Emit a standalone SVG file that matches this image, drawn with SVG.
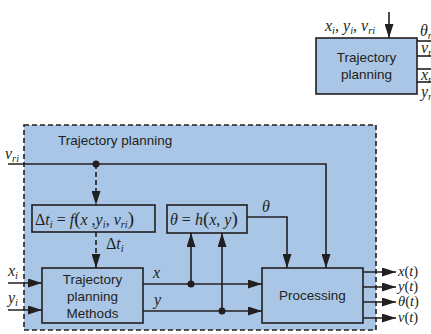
<svg xmlns="http://www.w3.org/2000/svg" width="431" height="334" viewBox="0 0 431 334">
  <style>
    .box { fill: #a9c6e6; stroke: #231f20; stroke-width: 1.6; }
    .frame { fill: #a9c6e6; stroke: #231f20; stroke-width: 1.6; stroke-dasharray: 5 3; }
    .ln { fill: none; stroke: #231f20; stroke-width: 1.6; }
    .dash { fill: none; stroke: #231f20; stroke-width: 1.6; stroke-dasharray: 5 3; }
    .sans { font-family: "Liberation Sans", Arial, sans-serif; font-size: 13.5px; fill: #231f20; }
    .math { font-family: "Liberation Serif", "Times New Roman", serif; font-style: italic; font-size: 16px; fill: #231f20; }
    .out { font-size: 14.5px; }
    .up { font-style: normal; }
    .par { font-style: normal; font-size: 19px; }
    .sub { font-size: 10.5px; }
    .dot { fill: #231f20; }
  </style>
  <defs>
    <marker id="arrow" viewBox="0 0 14 9" refX="14" refY="4.5" markerWidth="14" markerHeight="9" markerUnits="userSpaceOnUse" orient="auto">
      <path d="M0,0 L14,4.5 L0,9 z" fill="#231f20"/>
    </marker>
  </defs>

  <!-- compact block symbol -->
  <g id="block-symbol">
    <rect class="box" x="316" y="38" width="101" height="56"/>
    <text class="sans" x="366.5" y="62" text-anchor="middle">Trajectory</text>
    <text class="sans" x="366.5" y="79" text-anchor="middle">planning</text>
    <text class="math" x="325" y="31">x<tspan class="sub" dy="3">i</tspan><tspan dy="-3" class="up">, </tspan>y<tspan class="sub" dy="3">i</tspan><tspan dy="-3" class="up">, </tspan>v<tspan class="sub" dy="3">ri</tspan></text>
    <line class="ln" x1="389" y1="12" x2="389" y2="38" marker-end="url(#arrow)"/>
    <line class="ln" x1="417" y1="41" x2="431" y2="41"/>
    <line class="ln" x1="417" y1="56" x2="431" y2="56"/>
    <line class="ln" x1="417" y1="69" x2="431" y2="69"/>
    <line class="ln" x1="417" y1="82" x2="431" y2="82"/>
    <text class="math" x="420" y="36">θ<tspan class="sub" dy="3">r</tspan></text>
    <text class="math" x="421" y="53">v<tspan class="sub" dy="3">r</tspan></text>
    <text class="math" x="421" y="80">x<tspan class="sub" dy="3">r</tspan></text>
    <text class="math" x="421" y="97">y<tspan class="sub" dy="3">r</tspan></text>
  </g>

  <!-- expanded subsystem frame -->
  <g id="frame">
    <rect class="frame" x="24" y="125" width="352" height="205"/>
    <text class="sans" x="58" y="145">Trajectory planning</text>
  </g>

  <g id="delta-t">
    <rect class="box" x="32" y="205" width="123" height="27"/>
    <text class="math" x="35" y="225"><tspan class="up">Δ</tspan>t<tspan class="sub" dy="3">i</tspan><tspan dy="-3" class="up"> = </tspan>f<tspan class="par">(</tspan>x<tspan class="up"> ,</tspan>y<tspan class="sub" dy="3">i</tspan><tspan dy="-3" class="up">, </tspan>v<tspan class="sub" dy="3">ri</tspan><tspan dy="-3" class="par">)</tspan></text>
  </g>

  <g id="theta">
    <rect class="box" x="167" y="205" width="80" height="28"/>
    <text class="math" x="170" y="225">θ<tspan class="up"> = </tspan>h<tspan class="par">(</tspan>x<tspan class="up">, </tspan>y<tspan class="par">)</tspan></text>
  </g>

  <g id="methods">
    <rect class="box" x="42" y="268" width="101" height="55"/>
    <text class="sans" x="92.5" y="284" text-anchor="middle">Trajectory</text>
    <text class="sans" x="92.5" y="301" text-anchor="middle">planning</text>
    <text class="sans" x="92.5" y="318" text-anchor="middle">Methods</text>
  </g>

  <g id="processing">
    <rect class="box" x="262" y="268" width="101" height="55"/>
    <text class="sans" x="312.5" y="300" text-anchor="middle">Processing</text>
  </g>

  <g id="connectors">
    <!-- v_ri feed -->
    <text class="math" x="5" y="159">v<tspan class="sub" dy="3">ri</tspan></text>
    <polyline class="ln" points="8,164 326,164 326,268" marker-end="url(#arrow)"/>
    <circle class="dot" cx="96" cy="164" r="3.5"/>
    <line class="dash" x1="96" y1="164" x2="96" y2="205" marker-end="url(#arrow)"/>
    <!-- Δt_i -->
    <line class="dash" x1="96" y1="232" x2="96" y2="268" marker-end="url(#arrow)"/>
    <text class="math" x="106" y="249"><tspan class="up">Δ</tspan>t<tspan class="sub" dy="3">i</tspan></text>
    <!-- θ -->
    <polyline class="ln" points="247,217 287,217 287,268" marker-end="url(#arrow)"/>
    <text class="math" x="262" y="212">θ</text>
    <!-- inputs -->
    <text class="math" x="8" y="276">x<tspan class="sub" dy="3">i</tspan></text>
    <line class="ln" x1="8" y1="283" x2="42" y2="283" marker-end="url(#arrow)"/>
    <text class="math" x="8" y="303">y<tspan class="sub" dy="3">i</tspan></text>
    <line class="ln" x1="8" y1="310" x2="42" y2="310" marker-end="url(#arrow)"/>
    <!-- x and y -->
    <text class="math" x="153" y="278">x</text>
    <line class="ln" x1="143" y1="284" x2="262" y2="284" marker-end="url(#arrow)"/>
    <text class="math" x="154" y="305">y</text>
    <line class="ln" x1="143" y1="311" x2="262" y2="311" marker-end="url(#arrow)"/>
    <circle class="dot" cx="191" cy="284" r="3.5"/>
    <line class="ln" x1="191" y1="284" x2="191" y2="233" marker-end="url(#arrow)"/>
    <circle class="dot" cx="222" cy="311" r="3.5"/>
    <line class="ln" x1="222" y1="311" x2="222" y2="233" marker-end="url(#arrow)"/>
    <!-- outputs -->
    <line class="ln" x1="363" y1="272" x2="396" y2="272" marker-end="url(#arrow)"/>
    <line class="ln" x1="363" y1="287" x2="396" y2="287" marker-end="url(#arrow)"/>
    <line class="ln" x1="363" y1="302" x2="396" y2="302" marker-end="url(#arrow)"/>
    <line class="ln" x1="363" y1="318" x2="396" y2="318" marker-end="url(#arrow)"/>
    <text class="math out" x="398" y="276">x<tspan class="up">(</tspan>t<tspan class="up">)</tspan></text>
    <text class="math out" x="398" y="291">y<tspan class="up">(</tspan>t<tspan class="up">)</tspan></text>
    <text class="math out" x="398" y="306">θ<tspan class="up">(</tspan>t<tspan class="up">)</tspan></text>
    <text class="math out" x="398" y="322">v<tspan class="up">(</tspan>t<tspan class="up">)</tspan></text>
  </g>
</svg>
